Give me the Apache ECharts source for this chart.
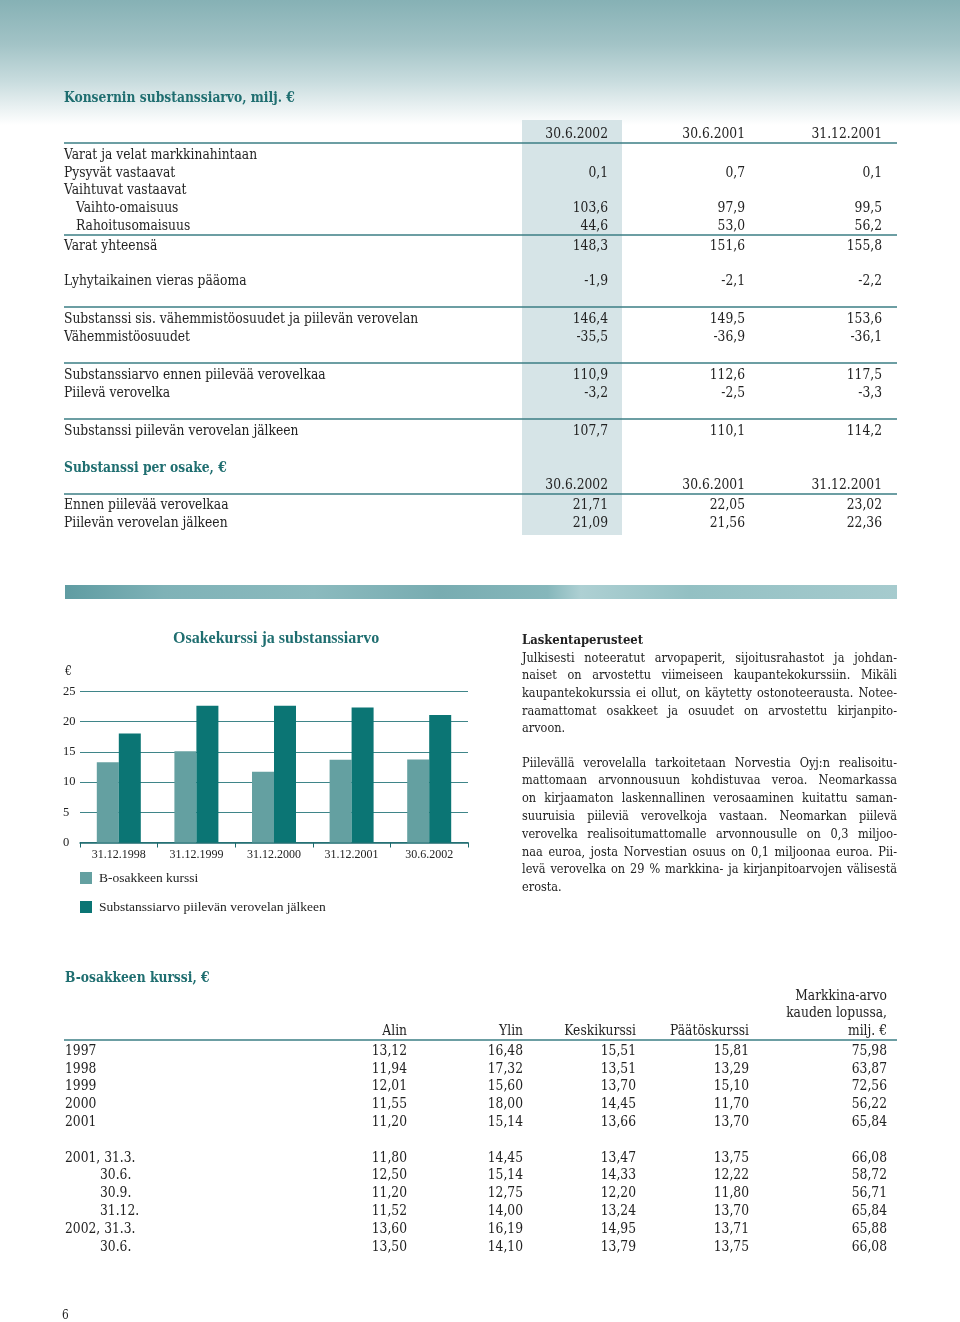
<!DOCTYPE html>
<html><head><meta charset="utf-8">
<script src="https://cdn.jsdelivr.net/npm/echarts@6/dist/echarts.min.js"></script>
<style>html,body{margin:0;padding:0;background:#fff}#c{width:960px;height:1322px}</style>
</head><body><div id="c"></div>
<script>
// ---------- DATA ----------
const topDates = ['30.6.2002', '30.6.2001', '31.12.2001'];
const navLabels = ['Varat ja velat markkinahintaan', 'Pysyvät vastaavat', 'Vaihtuvat vastaavat', 'Vaihto-omaisuus', 'Rahoitusomaisuus', 'Varat yhteensä', 'Lyhytaikainen vieras pääoma', 'Substanssi sis. vähemmistöosuudet ja piilevän verovelan', 'Vähemmistöosuudet', 'Substanssiarvo ennen piilevää verovelkaa', 'Piilevä verovelka', 'Substanssi piilevän verovelan jälkeen'];
const nav2002 = [null, '0,1', null, '103,6', '44,6', '148,3', '-1,9', '146,4', '-35,5', '110,9', '-3,2', '107,7'];
const nav2001h1 = [null, '0,7', null, '97,9', '53,0', '151,6', '-2,1', '149,5', '-36,9', '112,6', '-2,5', '110,1'];
const nav2001 = [null, '0,1', null, '99,5', '56,2', '155,8', '-2,2', '153,6', '-36,1', '117,5', '-3,3', '114,2'];
const perShareLabels = ['Ennen piilevää verovelkaa', 'Piilevän verovelan jälkeen'];
const perShare2002 = ['21,71', '21,09'];
const perShare2001h1 = ['22,05', '21,56'];
const perShare2001 = ['23,02', '22,36'];

const chartCategories = ['31.12.1998', '31.12.1999', '31.12.2000', '31.12.2001', '30.6.2002'];
const bShareClose = [13.29, 15.10, 11.70, 13.70, 13.75];
const navAfterTax = [18.05, 22.65, 22.65, 22.36, 21.09];
const yTicks = [0, 25, 5];

const priceLabels = ['1997', '1998', '1999', '2000', '2001', '2001, 31.3.', '30.6.', '30.9.', '31.12.', '2002, 31.3.', '30.6.'];
const priceLow = ['13,12', '11,94', '12,01', '11,55', '11,20', '11,80', '12,50', '11,20', '11,52', '13,60', '13,50'];
const priceHigh = ['16,48', '17,32', '15,60', '18,00', '15,14', '14,45', '15,14', '12,75', '14,00', '16,19', '14,10'];
const priceAvg = ['15,51', '13,51', '13,70', '14,45', '13,66', '13,47', '14,33', '12,20', '13,24', '14,95', '13,79'];
const priceClose = ['15,81', '13,29', '15,10', '11,70', '13,70', '13,75', '12,22', '11,80', '13,70', '13,71', '13,75'];
const marketCap = ['75,98', '63,87', '72,56', '56,22', '65,84', '66,08', '58,72', '56,71', '65,84', '65,88', '66,08'];

const para1 = ['Julkisesti noteeratut arvopaperit, sijoitusrahastot ja johdan-', 'naiset on arvostettu viimeiseen kaupantekokurssiin. Mikäli', 'kaupantekokurssia ei ollut, on käytetty ostonoteerausta. Notee-', 'raamattomat osakkeet ja osuudet on arvostettu kirjanpito-', 'arvoon.'];
const para2 = ['Piilevällä verovelalla tarkoitetaan Norvestia Oyj:n realisoitu-', 'mattomaan arvonnousuun kohdistuvaa veroa. Neomarkassa', 'on kirjaamaton laskennallinen verosaaminen kuitattu saman-', 'suuruisia piileviä verovelkoja vastaan. Neomarkan piilevä', 'verovelka realisoitumattomalle arvonnousulle on 0,3 miljoo-', 'naa euroa, josta Norvestian osuus on 0,1 miljoonaa euroa. Pii-', 'levä verovelka on 29 % markkina- ja kirjanpitoarvojen välisestä', 'erosta.'];

// ---------- STYLE HELPERS ----------
const TEAL = '#1f6e70', LINE = '#3b7e84', TXT = '#222';
const FONT = '"DejaVu Serif"';
const DY = 1;
const mctx = document.createElement('canvas').getContext('2d');
function T(x, y, text, o) {
  o = o || {};
  const size = o.size || 14, sx = o.sx || 0.88;
  const font = (o.bold ? 'bold ' : '') + size + 'px ' + FONT;
  let left = x;
  if (o.align === 'right' || o.align === 'center') {
    mctx.font = font;
    const w = mctx.measureText(text).width * sx;
    left = o.align === 'right' ? x - w : x - w / 2;
  }
  return {type: 'text', x: left, y: y + DY, scaleX: sx, silent: true, z: 10,
    style: {text: text, x: 0, y: 0, fill: o.color || TXT, font: font,
      align: 'left', verticalAlign: 'middle', textVerticalAlign: 'middle'}};
}
const RA = {align: 'right'};
function L(x1, x2, y, w, c) {
  return {type: 'line', silent: true, z: 5, shape: {x1: x1, y1: y, x2: x2, y2: y}, style: {stroke: c || LINE, lineWidth: w || 1.5}};
}
function R(x, y, w, h, fill, z) {
  return {type: 'rect', silent: true, z: z || 1, shape: {x: x, y: y, width: w, height: h}, style: {fill: fill}};
}

const G = [];
// header background
G.push(R(0, 0, 960, 125, {type: 'linear', x: 0, y: 0, x2: 0, y2: 1, colorStops: [
  {offset: 0, color: '#86b1b5'}, {offset: 0.35, color: '#a2c3c6'}, {offset: 0.65, color: '#c8dcde'},
  {offset: 0.85, color: '#e8f0f1'}, {offset: 1, color: '#ffffff'}]}, 0));
// highlighted column
G.push(R(522, 120, 100, 415, '#d6e4e7', 2));
// divider band
G.push(R(65, 585, 832, 14, {type: 'linear', x: 0, y: 0, x2: 1, y2: 0, colorStops: [
  {offset: 0, color: '#5f9ca2'}, {offset: 0.12, color: '#7fb2b7'}, {offset: 0.3, color: '#8bbabe'},
  {offset: 0.45, color: '#78acb1'}, {offset: 0.58, color: '#86b7bb'}, {offset: 0.62, color: '#aed0d3'},
  {offset: 0.75, color: '#93c0c3'}, {offset: 1, color: '#a6cbce'}]}, 2));

// top table
G.push(T(64, 97, 'Konsernin substanssiarvo, milj. €', {bold: true, color: TEAL, size: 14, sx: 0.88}));
const colX = [608, 745, 882];
topDates.forEach((d, i) => G.push(T(colX[i], 133, d, RA)));
G.push(L(64, 897, 143));
const navY = [154, 172, 189, 207, 225, 245, 280, 318, 336, 374, 392, 430];
const navIndent = [0, 0, 0, 12, 12, 0, 0, 0, 0, 0, 0, 0];
navLabels.forEach((lab, i) => {
  G.push(T(64 + navIndent[i], navY[i], lab));
  [nav2002, nav2001h1, nav2001].forEach((arr, j) => { if (arr[i] !== null) G.push(T(colX[j], navY[i], arr[i], RA)); });
});
[235, 307, 363, 419].forEach(y => G.push(L(64, 897, y)));
G.push(T(64, 467, 'Substanssi per osake, €', {bold: true, color: TEAL}));
topDates.forEach((d, i) => G.push(T(colX[i], 484, d, RA)));
G.push(L(64, 897, 494));
perShareLabels.forEach((lab, i) => {
  const y = 504 + i * 18;
  G.push(T(64, y, lab));
  [perShare2002, perShare2001h1, perShare2001].forEach((arr, j) => G.push(T(colX[j], y, arr[i], RA)));
});

// paragraphs (justified)
function para(lines, y0, lh, x0, W, size, sx) {
  mctx.font = size + 'px ' + FONT;
  lines.forEach((ln, k) => {
    const y = y0 + k * lh;
    if (k === lines.length - 1) { G.push(T(x0, y, ln, {size: size, sx: sx})); return; }
    const words = ln.split(' ');
    const ws = words.map(w => mctx.measureText(w).width);
    const sum = ws.reduce((a, b) => a + b, 0);
    const minGap = 2.2;
    let s = sx;
    if (s * sum + (words.length - 1) * minGap > W) s = (W - (words.length - 1) * minGap) / sum;
    const gap = (W - s * sum) / (words.length - 1);
    let x = x0;
    words.forEach((w, i) => { G.push(T(x, y, w, {size: size, sx: s})); x += ws[i] * s + gap; });
  });
}
G.push(T(522, 639, 'Laskentaperusteet', {bold: true, size: 13.5, sx: 0.86}));
para(para1, 657, 17.7, 522, 375, 13.5, 0.84);
para(para2, 762, 17.8, 522, 375, 13.5, 0.84);

// chart helper text
G.push(T(65, 671, '€', {size: 12, sx: 0.9}));

// bottom table
G.push(T(65, 977, 'B-osakkeen kurssi, €', {bold: true, color: TEAL}));
const pX = [407, 523, 636, 749, 887];
G.push(T(887, 995, 'Markkina-arvo', RA));
G.push(T(887, 1012, 'kauden lopussa,', RA));
['Alin', 'Ylin', 'Keskikurssi', 'Päätöskurssi', 'milj. €'].forEach((h, i) => G.push(T(pX[i], 1030, h, RA)));
G.push(L(64, 897, 1040));
const priceY = [1050, 1068, 1085, 1103, 1121, 1157, 1174, 1192, 1210, 1228, 1246];
priceLabels.forEach((lab, i) => {
  const indent = (lab.length <= 6 && lab.indexOf('.') >= 0) ? 100 : 65;
  G.push(T(indent, priceY[i], lab));
  [priceLow, priceHigh, priceAvg, priceClose, marketCap].forEach((arr, j) => G.push(T(pX[j], priceY[i], arr[i], RA)));
});
G.push(T(62, 1315, '6', {size: 12}));

// ---------- CHART ----------
const chart = echarts.init(document.getElementById('c'), null, {renderer: 'canvas'});
const CF = 'Liberation Serif';
chart.setOption({
  animation: false,
  backgroundColor: '#fff',
  title: {text: 'Osakekurssi ja substanssiarvo', left: 173, top: 631, padding: 0,
    textStyle: {fontFamily: CF, fontWeight: 'bold', fontSize: 16, color: TEAL}},
  legend: {orient: 'vertical', left: 80, top: 871, padding: 0, itemGap: 15, itemWidth: 12, itemHeight: 12,
    icon: 'rect', data: ['B-osakkeen kurssi', 'Substanssiarvo piilevän verovelan jälkeen'],
    textStyle: {fontFamily: CF, fontSize: 13.5, color: TXT, padding: [0, 0, 0, 2], lineHeight: 13}},
  grid: {left: 80, top: 691.5, width: 388, height: 151, containLabel: false},
  xAxis: {type: 'category', data: chartCategories,
    axisLine: {lineStyle: {color: '#1d6a6d', width: 1.5}},
    axisTick: {show: true, length: 5, interval: 0, lineStyle: {color: '#1d6a6d'}},
    axisLabel: {fontFamily: CF, fontSize: 12, color: TXT, margin: 6, interval: 0}},
  yAxis: {type: 'value', min: yTicks[0], max: yTicks[1], interval: yTicks[2],
    axisLine: {show: false}, axisTick: {show: false},
    splitLine: {lineStyle: {color: '#3f8589', width: 1}},
    axisLabel: {fontFamily: CF, fontSize: 12.5, color: TXT, align: 'left', margin: 17}},
  series: [
    {name: 'B-osakkeen kurssi', type: 'bar', data: bShareClose, barWidth: 22, barGap: '0%', itemStyle: {color: '#64a0a1'}},
    {name: 'Substanssiarvo piilevän verovelan jälkeen', type: 'bar', data: navAfterTax, barWidth: 22, itemStyle: {color: '#0b7574'}}
  ],
  graphic: G
});
</script></body></html>
